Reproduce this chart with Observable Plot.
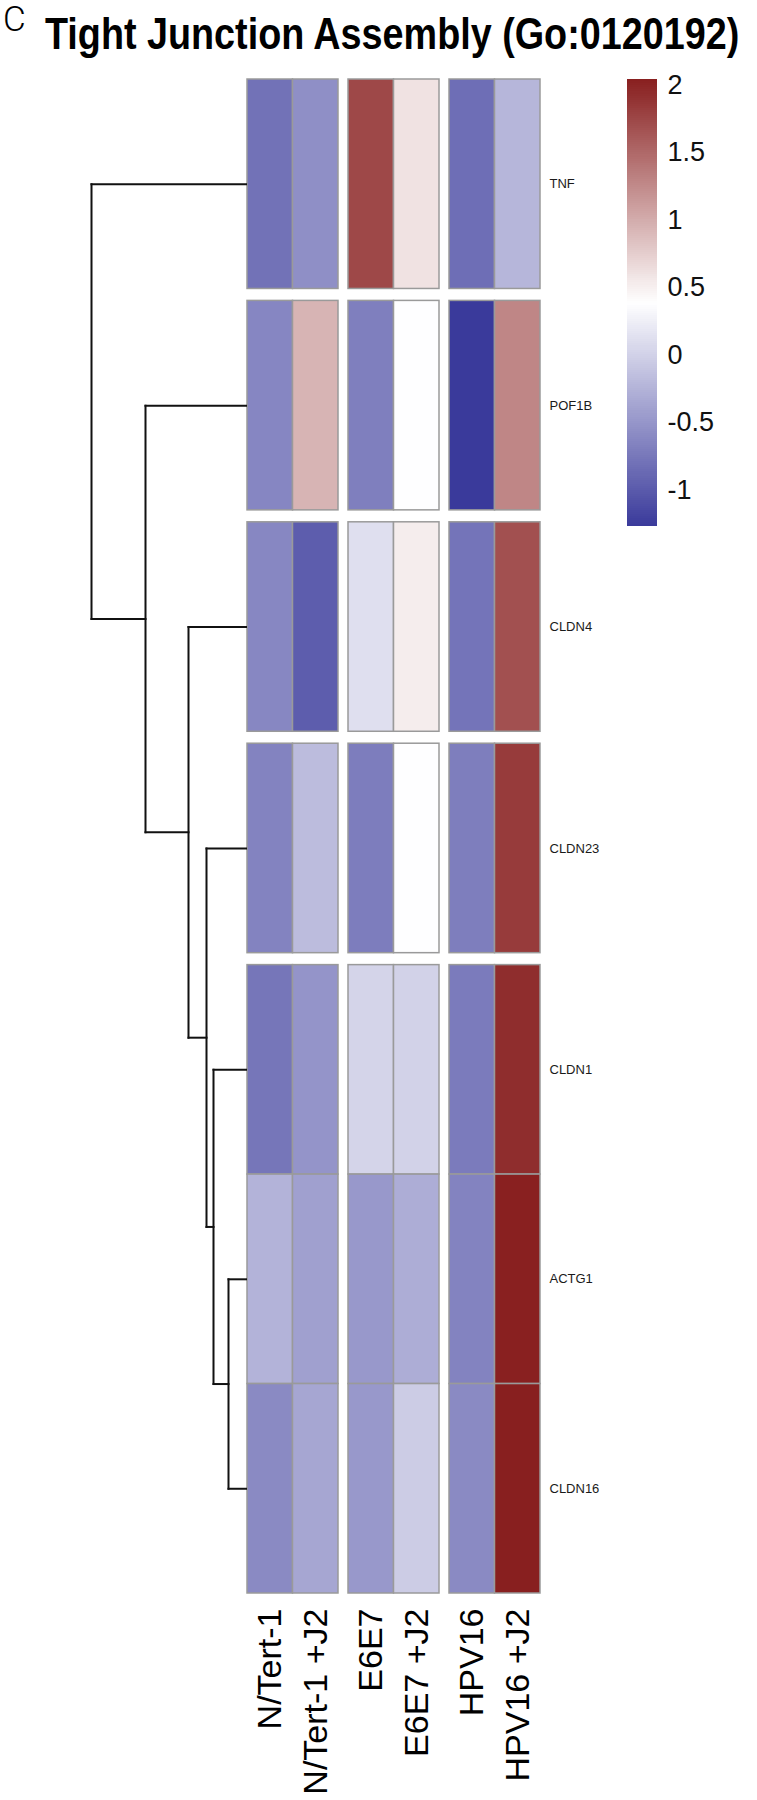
<!DOCTYPE html>
<html>
<head>
<meta charset="utf-8">
<script src="https://cdn.jsdelivr.net/npm/d3@7"></script>
<script src="https://cdn.jsdelivr.net/npm/@observablehq/plot@0.6"></script>
<style>
  body { margin: 0; background: #fff; }
  #wrap { position: relative; width: 757px; height: 1800px; background: #fff; overflow: hidden;
          font-family: "Liberation Sans", Arial, Helvetica, sans-serif; }
  #wrap > svg { position: absolute; top: 0; }
</style>
</head>
<body>
<div id="wrap"></div>
<script>
// ---------------- data ----------------
const genes   = ["TNF", "POF1B", "CLDN4", "CLDN23", "CLDN1", "ACTG1", "CLDN16"];
const samples = ["N/Tert-1", "N/Tert-1 +J2", "E6E7", "E6E7 +J2", "HPV16", "HPV16 +J2"];
const sampleGroup = [0, 0, 1, 1, 2, 2];      // column gaps after columns 2 and 4
const geneSlice   = [0, 1, 2, 3, 4, 4, 4];   // row gaps after rows 1..4

// row-scaled expression (z-scores), one array per gene, in sample order
const TNF    = [-0.80, -0.56,  1.74,  0.60, -0.83, -0.23];
const POF1B  = [-0.63,  0.94, -0.69,  0.38, -1.27,  1.28];
const CLDN4  = [-0.62, -0.98,  0.12,  0.52, -0.78,  1.68];
const CLDN23 = [-0.66, -0.18, -0.71,  0.38, -0.70,  1.83];
const CLDN1  = [-0.77, -0.51,  0.02,  0.01, -0.72,  1.94];
const ACTG1  = [-0.25, -0.41, -0.48, -0.30, -0.66,  2.03];
const CLDN16 = [-0.60, -0.36, -0.48, -0.04, -0.60,  2.04];
const matrix = [TNF, POF1B, CLDN4, CLDN23, CLDN1, ACTG1, CLDN16];

// row dendrogram merges (children, merge height)
const mergeA  = ["ACTG1", "CLDN1", "CLDN23", "CLDN4", "POF1B", "TNF"];
const mergeB  = ["CLDN16", "m1",   "m2",     "m3",    "m4",    "m5"];
const mergeH  = [19, 34, 41, 59, 102, 156];

// colour legend ticks
const legendTicks  = [2, 1.5, 1, 0.5, 0, -0.5, -1];
const legendLabels = ["2", "1.5", "1", "0.5", "0", "-0.5", "-1"];

// ---------------- derived ----------------
const colGap = 0.22, rowGap = 0.057;
const xMax = samples.length + 2 * colGap;
const yMax = genes.length + 4 * rowGap;
const colX = samples.map((s, c) => c + sampleGroup[c] * colGap);
const rowY = genes.map((g, r) => r + geneSlice[r] * rowGap);

const cells = genes.flatMap((g, r) => samples.map((s, c) => ({
  gene: g, sample: s, v: matrix[r][c], x1: colX[c], y1: rowY[r]
})));

const [vMin, vMax] = d3.extent(cells, d => d.v);
const colorOpts = {
  type: "linear",
  domain: [vMin, (vMin + vMax) / 2, vMax],
  range: ["#3a3a9b", "#ffffff", "#881f1f"],
  interpolate: "rgb"
};

const font = '"Liberation Sans", Arial, Helvetica, sans-serif';
const wrap = document.getElementById("wrap");

// ---------------- heatmap ----------------
const heat = Plot.plot({
  width: 757, height: 1800,
  marginLeft: 247, marginRight: 217, marginTop: 79, marginBottom: 207,
  x: {domain: [0, xMax], axis: null},
  y: {domain: [0, yMax], reverse: true, axis: null},
  color: colorOpts,
  style: {background: "transparent", fontFamily: font},
  marks: [
    Plot.rect(cells, {
      x1: "x1", x2: d => d.x1 + 1, y1: "y1", y2: d => d.y1 + 1,
      fill: "v", stroke: "#9a9a9a", strokeWidth: 1.5
    }),
    Plot.text(genes, {
      x: () => xMax, y: (d, i) => rowY[i] + 0.5, text: d => d,
      dx: 9, textAnchor: "start", fontSize: 13, fill: "#1a1a1a"
    }),
    Plot.text(samples, {
      x: (d, i) => colX[i] + 0.5, y: () => yMax, text: d => d,
      dy: 15, rotate: -90, textAnchor: "end", fontSize: 34, fill: "#000"
    })
  ]
});
wrap.appendChild(heat);
heat.style.left = "0px";

// ---------------- dendrogram ----------------
const nodes = new Map(genes.map((g, i) => [g, {y: rowY[i] + 0.5, h: 0}]));
const segs = [];
mergeA.forEach((a, i) => {
  const A = nodes.get(a), B = nodes.get(mergeB[i]), h = mergeH[i];
  segs.push({x1: h, y1: A.y, x2: h, y2: B.y});
  segs.push({x1: A.h, y1: A.y, x2: h, y2: A.y});
  segs.push({x1: B.h, y1: B.y, x2: h, y2: B.y});
  nodes.set("m" + (i + 1), {y: (A.y + B.y) / 2, h});
});
const dendro = Plot.plot({
  width: 247, height: 1800,
  marginLeft: 91, marginRight: 0, marginTop: 79, marginBottom: 207,
  x: {domain: [0, d3.max(mergeH)], reverse: true, axis: null},
  y: {domain: [0, yMax], reverse: true, axis: null},
  style: {background: "transparent"},
  marks: [
    Plot.link(segs, {x1: "x1", y1: "y1", x2: "x2", y2: "y2",
      stroke: "#111", strokeWidth: 2, strokeLinecap: "square"})
  ]
});
wrap.appendChild(dendro);
dendro.style.left = "0px";

// ---------------- colour legend ----------------
const nSteps = 220;
const steps = d3.range(nSteps).map(i => {
  const v0 = vMin + (vMax - vMin) * i / nSteps;
  const v1 = vMin + (vMax - vMin) * (i + 1) / nSteps;
  return {v0, v1, vm: (v0 + v1) / 2};
});
const legend = Plot.plot({
  width: 157, height: 560,
  marginLeft: 27, marginRight: 100, marginTop: 79, marginBottom: 34,
  x: {domain: [0, 1], axis: null},
  y: {domain: [vMin, vMax], axis: null},
  color: colorOpts,
  style: {background: "transparent", fontFamily: font},
  marks: [
    Plot.rect(steps, {x1: () => 0, x2: () => 1, y1: "v0", y2: "v1", fill: "vm",
      shapeRendering: "crispEdges", inset: -0.3}),
    Plot.text(legendTicks, {x: () => 1, y: d => d, text: (d, i) => legendLabels[i],
      dx: 10, textAnchor: "start", fontSize: 27, fill: "#111"})
  ]
});
wrap.appendChild(legend);
legend.style.left = "600px";

// ---------------- title & panel letter ----------------
const ns = "http://www.w3.org/2000/svg";
const tsvg = document.createElementNS(ns, "svg");
tsvg.setAttribute("width", 757); tsvg.setAttribute("height", 75);
tsvg.style.left = "0px";
const letter = document.createElementNS(ns, "text");
letter.setAttribute("x", 3); letter.setAttribute("y", 31);
letter.setAttribute("font-size", 35); letter.setAttribute("font-weight", 300);
letter.setAttribute("font-family", "Roboto, " + font);
letter.textContent = "C";
const title = document.createElementNS(ns, "text");
title.setAttribute("x", 0); title.setAttribute("y", 0);
title.setAttribute("font-size", 44); title.setAttribute("font-weight", "bold");
title.setAttribute("font-family", font);
title.setAttribute("transform", "translate(45,49) scale(0.858,1)");
title.textContent = "Tight Junction Assembly (Go:0120192)";
tsvg.appendChild(letter); tsvg.appendChild(title);
wrap.appendChild(tsvg);
</script>
</body>
</html>
